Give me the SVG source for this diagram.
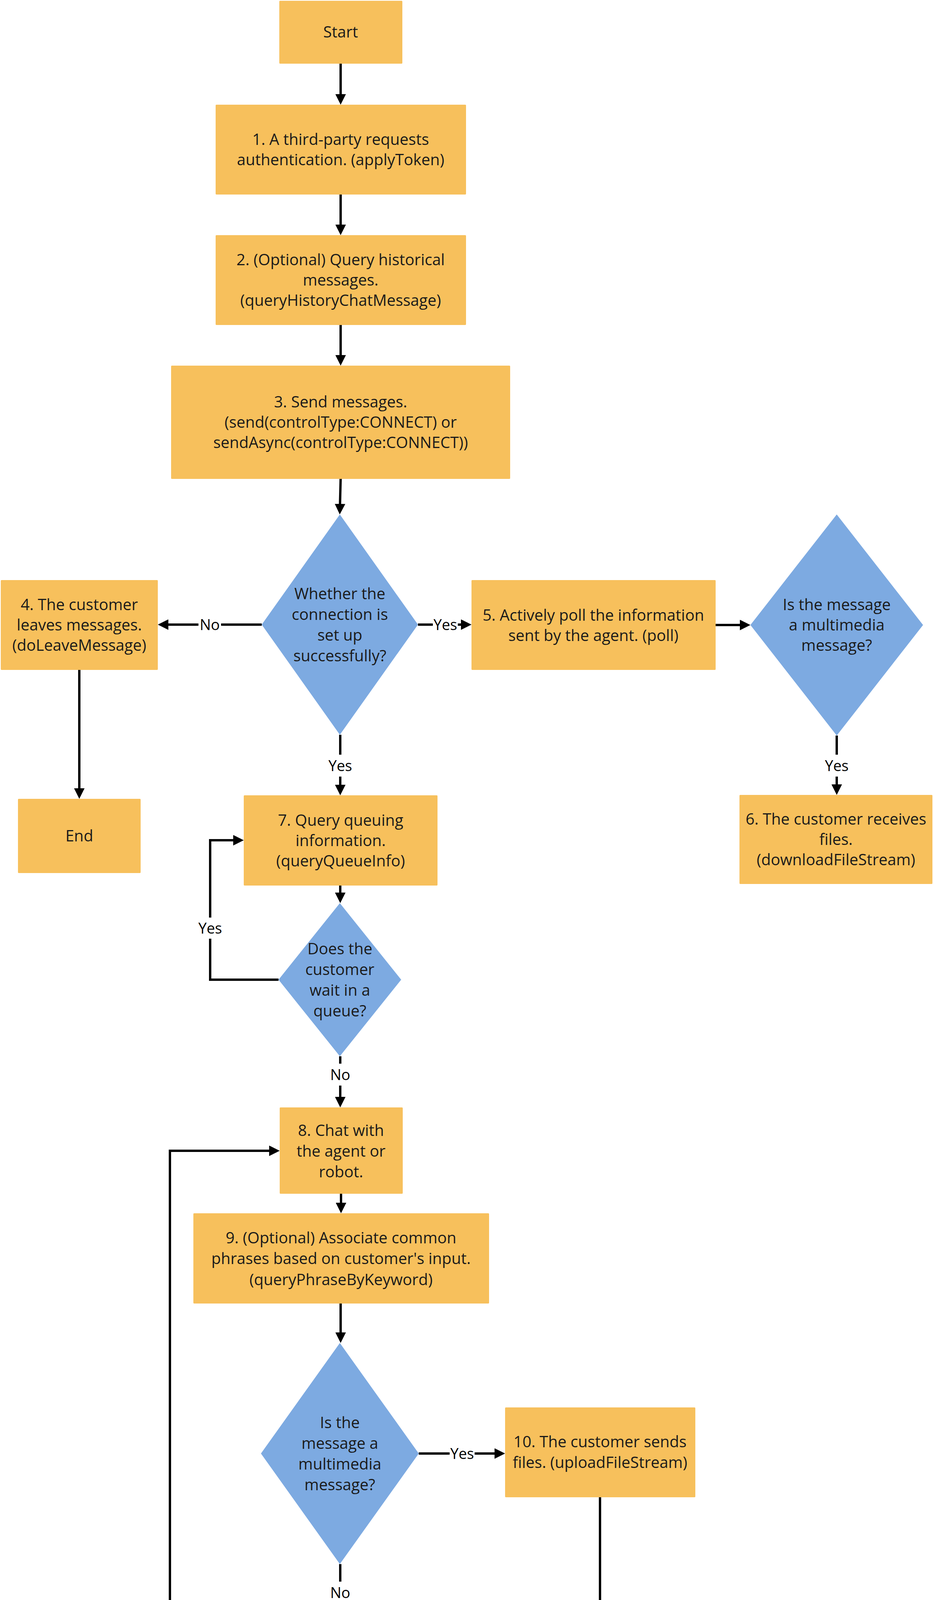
<svg xmlns="http://www.w3.org/2000/svg" width="2391" height="4458" viewBox="0 0 2391 4458">
<style>
.box{fill:#F7C05C;}
.dec{fill:#7DAAE1;}
.t{font-family:"Open Sans","Noto Sans","Liberation Sans",sans-serif;font-size:40px;fill:#1a1a1a;text-anchor:middle;}
.lbl{font-family:"Open Sans","Noto Sans","Liberation Sans",sans-serif;font-size:38px;fill:#000;text-anchor:middle;}
.lb{fill:#fff;}
.c{fill:none;stroke:#000;stroke-width:6;marker-end:url(#ah);}
</style>
<defs>
<marker id="ah" markerUnits="userSpaceOnUse" markerWidth="27" markerHeight="27" refX="17" refY="13.5" orient="auto" viewBox="0 0 27 27">
<path d="M0,0 L27,13.5 L0,27 Z" fill="#000"/>
</marker>
</defs>
<rect width="2391" height="4458" fill="#fff"/>

<g id="connectors">
<path class="c" d="M872,163 V258"/>
<path class="c" d="M872,498 V592"/>
<path class="c" d="M872,832 V926"/>
<path class="c" d="M872,1226 L870,1307"/>
<path class="c" d="M670,1599 H414"/>
<path class="c" d="M1070,1599 H1197"/>
<path class="c" d="M1832,1600 H1911"/>
<path class="c" d="M2142,1883 V2025"/>
<path class="c" d="M203,1715 V2035"/>
<path class="c" d="M871,1881 V2026"/>
<path class="c" d="M871,2267 V2302"/>
<path class="c" d="M713,2508 H538 V2151 H614"/>
<path class="c" d="M871,2704 V2825"/>
<path class="c" d="M873,3056 V3096"/>
<path class="c" d="M872,3337 V3428"/>
<path class="c" d="M1072,3721 H1283"/>
<path class="c" d="M871,4004 V4175"/>
<path class="c" d="M1536,3833 V4320 H1236"/>
<path class="c" d="M520,4320 H435 V2946 H706"/>
</g>

<g id="labels">
<rect class="lb" x="508" y="1576" width="58" height="46"/>
<text class="lbl" x="537" y="1613">No</text>
<rect class="lb" x="1108" y="1576" width="64" height="46"/>
<text class="lbl" x="1140" y="1613">Yes</text>
<rect class="lb" x="838" y="1932" width="66" height="56"/>
<text class="lbl" x="871" y="1974">Yes</text>
<rect class="lb" x="2109" y="1932" width="66" height="56"/>
<text class="lbl" x="2142" y="1974">Yes</text>
<rect class="lb" x="505" y="2349" width="66" height="54"/>
<text class="lbl" x="538" y="2390">Yes</text>
<rect class="lb" x="842" y="2723" width="58" height="56"/>
<text class="lbl" x="871" y="2765">No</text>
<rect class="lb" x="1151" y="3698" width="64" height="46"/>
<text class="lbl" x="1183" y="3735">Yes</text>
<rect class="lb" x="842" y="4049" width="58" height="54"/>
<text class="lbl" x="871" y="4091">No</text>
</g>

<g id="start">
<rect class="box" x="715" y="2" width="315" height="161" rx="2"/>
<text class="t" x="872" y="96">Start</text>
</g>

<g id="n1">
<rect class="box" x="552" y="268" width="641" height="230" rx="2"/>
<text class="t" x="872" y="371">1. A third-party requests</text>
<text class="t" x="872" y="423">authentication. (applyToken)</text>
</g>

<g id="n2">
<rect class="box" x="552" y="602" width="641" height="230" rx="2"/>
<text class="t" x="872" y="679">2. (Optional) Query historical</text>
<text class="t" x="872" y="731">messages.</text>
<text class="t" x="872" y="783">(queryHistoryChatMessage)</text>
</g>

<g id="n3">
<rect class="box" x="438" y="936" width="868" height="290" rx="2"/>
<text class="t" x="872" y="1043">3. Send messages.</text>
<text class="t" x="872" y="1095">(send(controlType:CONNECT) or</text>
<text class="t" x="872" y="1147">sendAsync(controlType:CONNECT))</text>
</g>

<g id="d1">
<polygon class="dec" points="870,1317 1070,1599 870,1881 670,1599"/>
<text class="t" x="870" y="1534">Whether the</text>
<text class="t" x="870" y="1587">connection is</text>
<text class="t" x="870" y="1640">set up</text>
<text class="t" x="870" y="1693">successfully?</text>
</g>

<g id="n4">
<rect class="box" x="2" y="1485" width="402" height="230" rx="2"/>
<text class="t" x="203" y="1562">4. The customer</text>
<text class="t" x="203" y="1614">leaves messages.</text>
<text class="t" x="203" y="1666">(doLeaveMessage)</text>
</g>

<g id="end">
<rect class="box" x="46" y="2045" width="314" height="190" rx="2"/>
<text class="t" x="203" y="2154">End</text>
</g>

<g id="n5">
<rect class="box" x="1207" y="1485" width="625" height="230" rx="2"/>
<text class="t" x="1519" y="1589">5. Actively poll the information</text>
<text class="t" x="1519" y="1641">sent by the agent. (poll)</text>
</g>

<g id="d3">
<polygon class="dec" points="2142,1317 2363,1600 2142,1883 1921,1600"/>
<text class="t" x="2142" y="1562">Is the message</text>
<text class="t" x="2142" y="1614">a multimedia</text>
<text class="t" x="2142" y="1666">message?</text>
</g>

<g id="n6">
<rect class="box" x="1893" y="2035" width="494" height="228" rx="2"/>
<text class="t" x="2140" y="2111">6. The customer receives</text>
<text class="t" x="2140" y="2163">files.</text>
<text class="t" x="2140" y="2215">(downloadFileStream)</text>
</g>

<g id="n7">
<rect class="box" x="624" y="2036" width="496" height="231" rx="2"/>
<text class="t" x="872" y="2114">7. Query queuing</text>
<text class="t" x="872" y="2166">information.</text>
<text class="t" x="872" y="2218">(queryQueueInfo)</text>
</g>

<g id="d2">
<polygon class="dec" points="870,2312 1027,2508 870,2704 713,2508"/>
<text class="t" x="870" y="2443">Does the</text>
<text class="t" x="870" y="2496">customer</text>
<text class="t" x="870" y="2549">wait in a</text>
<text class="t" x="870" y="2602">queue?</text>
</g>

<g id="n8">
<rect class="box" x="716" y="2835" width="315" height="221" rx="2"/>
<text class="t" x="873" y="2908">8. Chat with</text>
<text class="t" x="873" y="2961">the agent or</text>
<text class="t" x="873" y="3014">robot.</text>
</g>

<g id="n9">
<rect class="box" x="495" y="3106" width="757" height="231" rx="2"/>
<text class="t" x="873" y="3183">9. (Optional) Associate common</text>
<text class="t" x="873" y="3236">phrases based on customer's input.</text>
<text class="t" x="873" y="3290">(queryPhraseByKeyword)</text>
</g>

<g id="d4">
<polygon class="dec" points="870,3438 1072,3721 870,4004 668,3721"/>
<text class="t" x="870" y="3656">Is the</text>
<text class="t" x="870" y="3709">message a</text>
<text class="t" x="870" y="3762">multimedia</text>
<text class="t" x="870" y="3815">message?</text>
</g>

<g id="n10">
<rect class="box" x="1293" y="3603" width="487" height="230" rx="2"/>
<text class="t" x="1536" y="3705">10. The customer sends</text>
<text class="t" x="1536" y="3758">files. (uploadFileStream)</text>
</g>

<g id="n11">
<rect class="box" x="520" y="4185" width="706" height="271" rx="2"/>
<text class="t" x="873" y="4281">11. Send messages to the agent.</text>
<text class="t" x="873" y="4334">(send(controlType:CHAT) or</text>
<text class="t" x="873" y="4387">sendAsync(controlType:CHAT))</text>
</g>
</svg>
